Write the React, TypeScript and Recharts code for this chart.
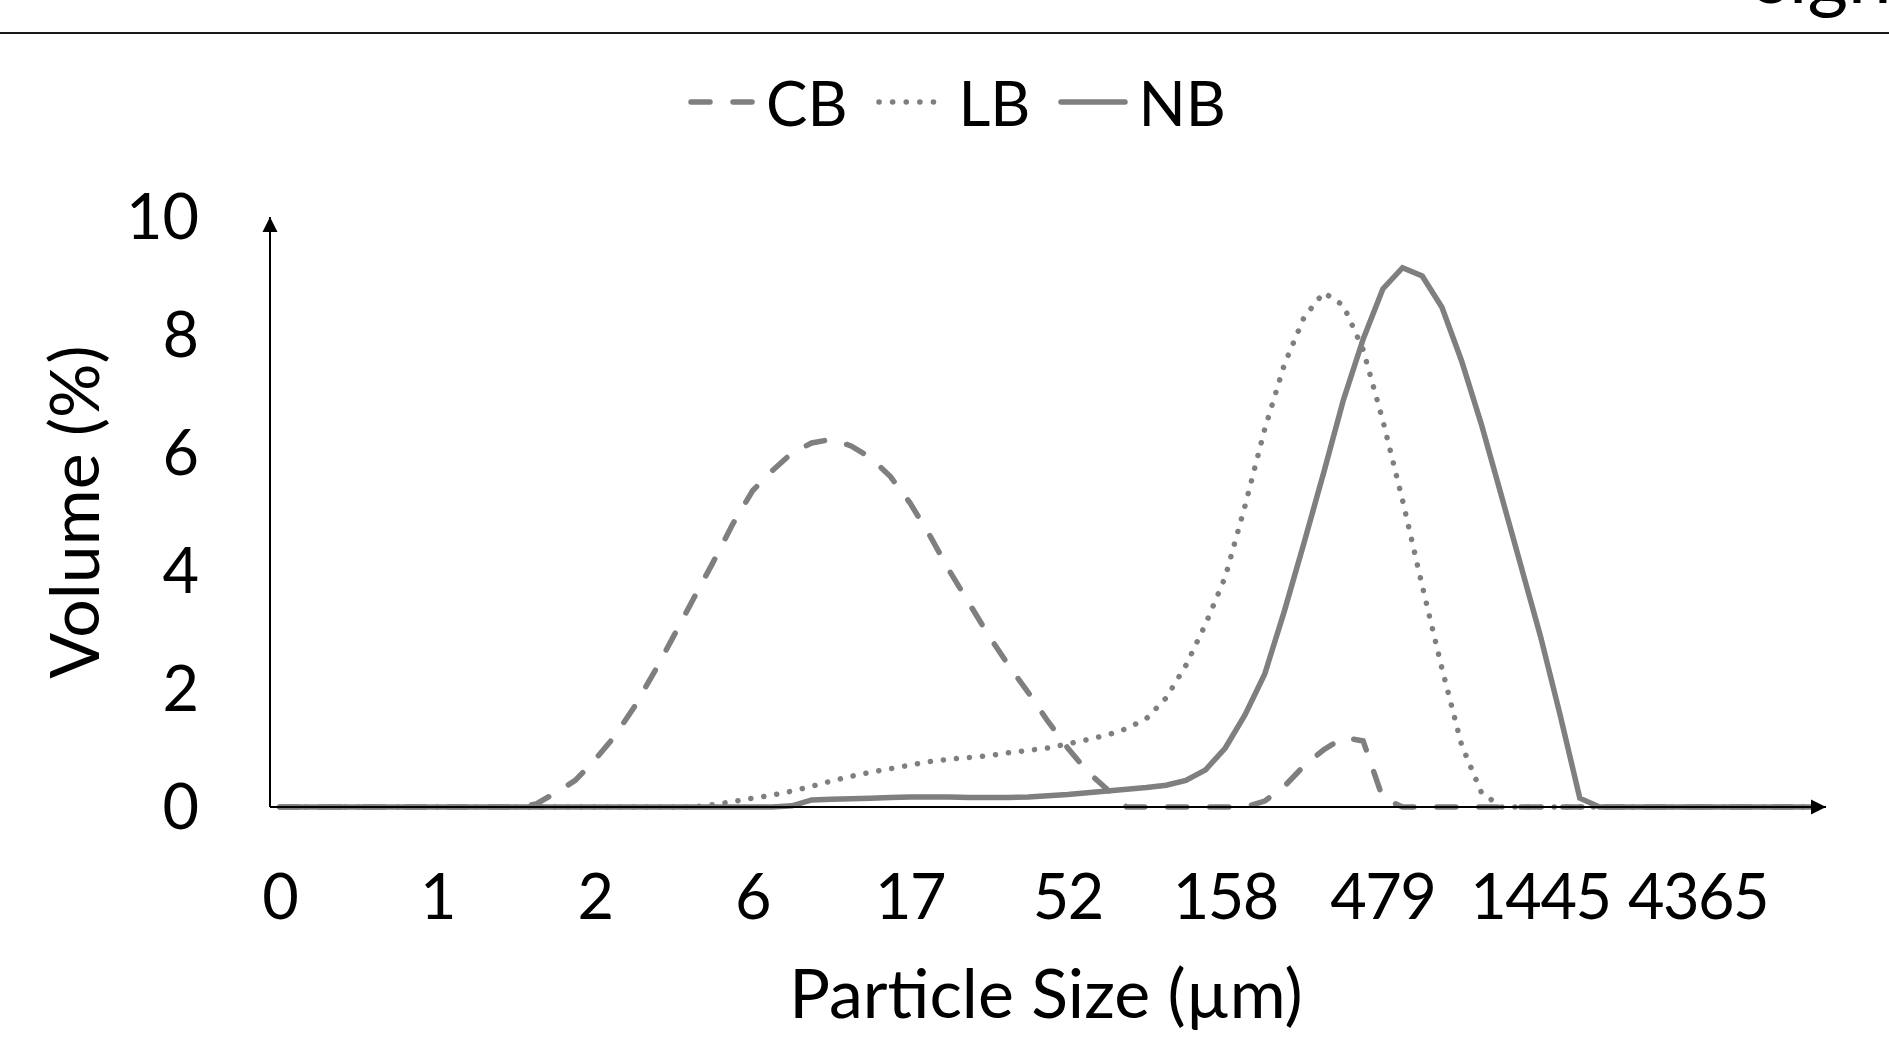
import { Label, Legend, Line, LineChart, XAxis, YAxis } from 'recharts'

// particle size classes (µm), every 8th one is labelled on the axis
const sizes = [
  0.209, 0.24, 0.275, 0.316, 0.363, 0.417, 0.479, 0.55, 0.631, 0.724,
  0.832, 0.955, 1.096, 1.259, 1.445, 1.66, 1.905, 2.188, 2.512, 2.884,
  3.311, 3.802, 4.365, 5.012, 5.754, 6.607, 7.586, 8.71, 10.0, 11.48,
  13.18, 15.14, 17.38, 19.95, 22.91, 26.3, 30.2, 34.67, 39.81, 45.71,
  52.48, 60.26, 69.18, 79.43, 91.2, 104.7, 120.2, 138.0, 158.4, 182.0,
  208.9, 239.9, 275.4, 316.2, 363.1, 416.9, 478.6, 549.5, 631.0, 724.4,
  831.8, 955.0, 1096, 1259, 1445, 1660, 1905, 2188, 2512, 2884,
  3311, 3802, 4365, 5012, 5754, 6607, 7586, 8710, 10000,
]

const cb = [
  0, 0, 0, 0, 0, 0, 0, 0, 0, 0,
  0, 0, 0, 0.05, 0.24, 0.45, 0.8, 1.2, 1.7, 2.28,
  2.9, 3.53, 4.15, 4.8, 5.36, 5.7, 6.0, 6.17, 6.23, 6.12,
  5.92, 5.6, 5.15, 4.6, 4.0, 3.45, 2.9, 2.4, 1.94, 1.45,
  1.0, 0.6, 0.3, 0, 0, 0, 0, 0, 0, 0,
  0.1, 0.35, 0.7, 0.97, 1.18, 1.12, 0.15, 0, 0, 0,
  0, 0, 0, 0, 0, 0, 0, 0, 0, 0,
  0, 0, 0, 0, 0, 0, 0, 0, 0,
]

const lb = [
  0, 0, 0, 0, 0, 0, 0, 0, 0, 0,
  0, 0, 0, 0, 0, 0, 0, 0, 0, 0,
  0, 0, 0.04, 0.09, 0.15, 0.2, 0.27, 0.35, 0.44, 0.52,
  0.59, 0.65, 0.71, 0.77, 0.81, 0.84, 0.87, 0.92, 0.96, 1.0,
  1.07, 1.14, 1.22, 1.33, 1.5, 1.85, 2.4, 3.1, 3.9, 5.1,
  6.4, 7.5, 8.3, 8.72, 8.5, 7.75, 6.55, 5.2, 3.75, 2.35,
  1.05, 0.25, 0, 0, 0, 0, 0, 0, 0, 0,
  0, 0, 0, 0, 0, 0, 0, 0, 0,
]

const nb = [
  0, 0, 0, 0, 0, 0, 0, 0, 0, 0,
  0, 0, 0, 0, 0, 0, 0, 0, 0, 0,
  0, 0, 0, 0, 0, 0, 0.02, 0.12, 0.13, 0.14,
  0.15, 0.16, 0.17, 0.17, 0.17, 0.16, 0.16, 0.16, 0.17, 0.19,
  0.21, 0.24, 0.27, 0.3, 0.33, 0.37, 0.45, 0.63, 1.0, 1.56,
  2.25, 3.32, 4.48, 5.67, 6.9, 7.93, 8.78, 9.14, 9.0, 8.47,
  7.56, 6.49, 5.3, 4.1, 2.9, 1.56, 0.15, 0, 0, 0,
  0, 0, 0, 0, 0, 0, 0, 0, 0,
]

const yTicks = [0, 2, 4, 6, 8, 10]

const data = sizes.map((size, i) => ({ size, CB: cb[i], LB: lb[i], NB: nb[i] }))

const GREY = '#7f7f7f'
const LEGEND_FONT = 62
const TICK_FONT = 63
const TITLE_FONT = 68
const LW = 5.5

const legendIcon: Record<string, { w: number; dash?: string }> = {
  CB: { w: 68, dash: '19 23' },
  LB: { w: 73, dash: '0.1 13.5' },
  NB: { w: 70 },
}

function renderLegend(props: any) {
  const items = props.payload || []
  return (
    <div style={{ display: 'flex', justifyContent: 'flex-start', alignItems: 'center', paddingLeft: 688 }}>
      {items.map((it: any) => {
        const icon = legendIcon[it.value] || { w: 68 }
        return (
          <div key={it.value} style={{ display: 'flex', alignItems: 'center', marginRight: 28 }}>
            <svg width={icon.w} height={20}>
              <line
                x1={3}
                y1={10}
                x2={icon.w - 3}
                y2={10}
                stroke={GREY}
                strokeWidth={LW}
                strokeLinecap="round"
                strokeDasharray={icon.dash}
              />
            </svg>
            <span style={{ marginLeft: 10, fontSize: LEGEND_FONT, lineHeight: '80px', color: '#000' }}>
              {it.value}
            </span>
          </div>
        )
      })}
    </div>
  )
}

export default function App() {
  return (
    <div
      style={{
        position: 'absolute',
        left: 0,
        top: 0,
        width: 1889,
        height: 1045,
        overflow: 'hidden',
        background: '#fff',
        fontFamily: 'Lato, "Open Sans", sans-serif',
        fontWeight: 400,
      }}
    >
      <svg width={0} height={0} style={{ position: 'absolute' }}>
        <defs>
          <marker
            id="arrow"
            viewBox="0 0 16 16"
            refX={15}
            refY={8}
            markerWidth={16}
            markerHeight={16}
            markerUnits="userSpaceOnUse"
            orient="auto-start-reverse"
          >
            <path d="M0,0.5 L15,8 L0,15.5 Z" fill="#000" />
          </marker>
        </defs>
      </svg>
      {/* page header remnant above the figure */}
      <svg width={1889} height={40} style={{ position: 'absolute', left: 0, top: 0 }}>
        <text x={1755} y={3} fontSize={78} fill="#000">
          sign
        </text>
        <line x1={0} y1={33} x2={1889} y2={33} stroke="#1a1a1a" strokeWidth={2} />
      </svg>
      <LineChart
        width={1889}
        height={1045}
        data={data}
        margin={{ top: 217, right: 63, left: 160, bottom: 148 }}
      >
        <XAxis
          dataKey="size"
          type="category"
          interval={7}
          height={90}
          padding={{ left: 9.85, right: 9.85 }}
          tickLine={false}
          tickSize={0}
          tickMargin={67}
          tickFormatter={(v: number) => Math.round(v).toString()}
          tick={{ fill: '#000', fontSize: TICK_FONT, letterSpacing: -1.5 }}
          axisLine={{ stroke: '#000', strokeWidth: 2, markerEnd: 'url(#arrow)' }}
        >
          <Label
            content={() => (
              <text x={1046} y={994} dy="0.36em" textAnchor="middle" fontSize={TITLE_FONT} fill="#000">
                Particle Size (µm)
              </text>
            )}
          />
        </XAxis>
        <YAxis
          type="number"
          domain={[0, 10]}
          ticks={yTicks}
          width={110}
          tickLine={false}
          tickSize={0}
          tickMargin={71}
          tick={{ fill: '#000', fontSize: TICK_FONT }}
          axisLine={{ stroke: '#000', strokeWidth: 2, markerStart: 'url(#arrow)' }}
        >
          <Label
            content={() => (
              <text
                x={75}
                y={512}
                dy="0.36em"
                transform="rotate(-90 75 512)"
                textAnchor="middle"
                fontSize={TITLE_FONT}
                fill="#000"
              >
                Volume (%)
              </text>
            )}
          />
        </YAxis>
        <Legend
          verticalAlign="middle"
          align="center"
          layout="horizontal"
          wrapperStyle={{ top: 62, left: 0, width: 1889 }}
          content={renderLegend}
        />
        <Line
          dataKey="CB"
          name="CB"
          type="linear"
          stroke={GREY}
          strokeWidth={LW}
          strokeDasharray="19 23"
          strokeLinecap="round"
          dot={false}
          activeDot={false}
          isAnimationActive={false}
        />
        <Line
          dataKey="LB"
          name="LB"
          type="linear"
          stroke={GREY}
          strokeWidth={LW}
          strokeDasharray="0.1 13"
          strokeLinecap="round"
          dot={false}
          activeDot={false}
          isAnimationActive={false}
        />
        <Line
          dataKey="NB"
          name="NB"
          type="linear"
          stroke={GREY}
          strokeWidth={LW}
          dot={false}
          activeDot={false}
          isAnimationActive={false}
        />
      </LineChart>
    </div>
  )
}
